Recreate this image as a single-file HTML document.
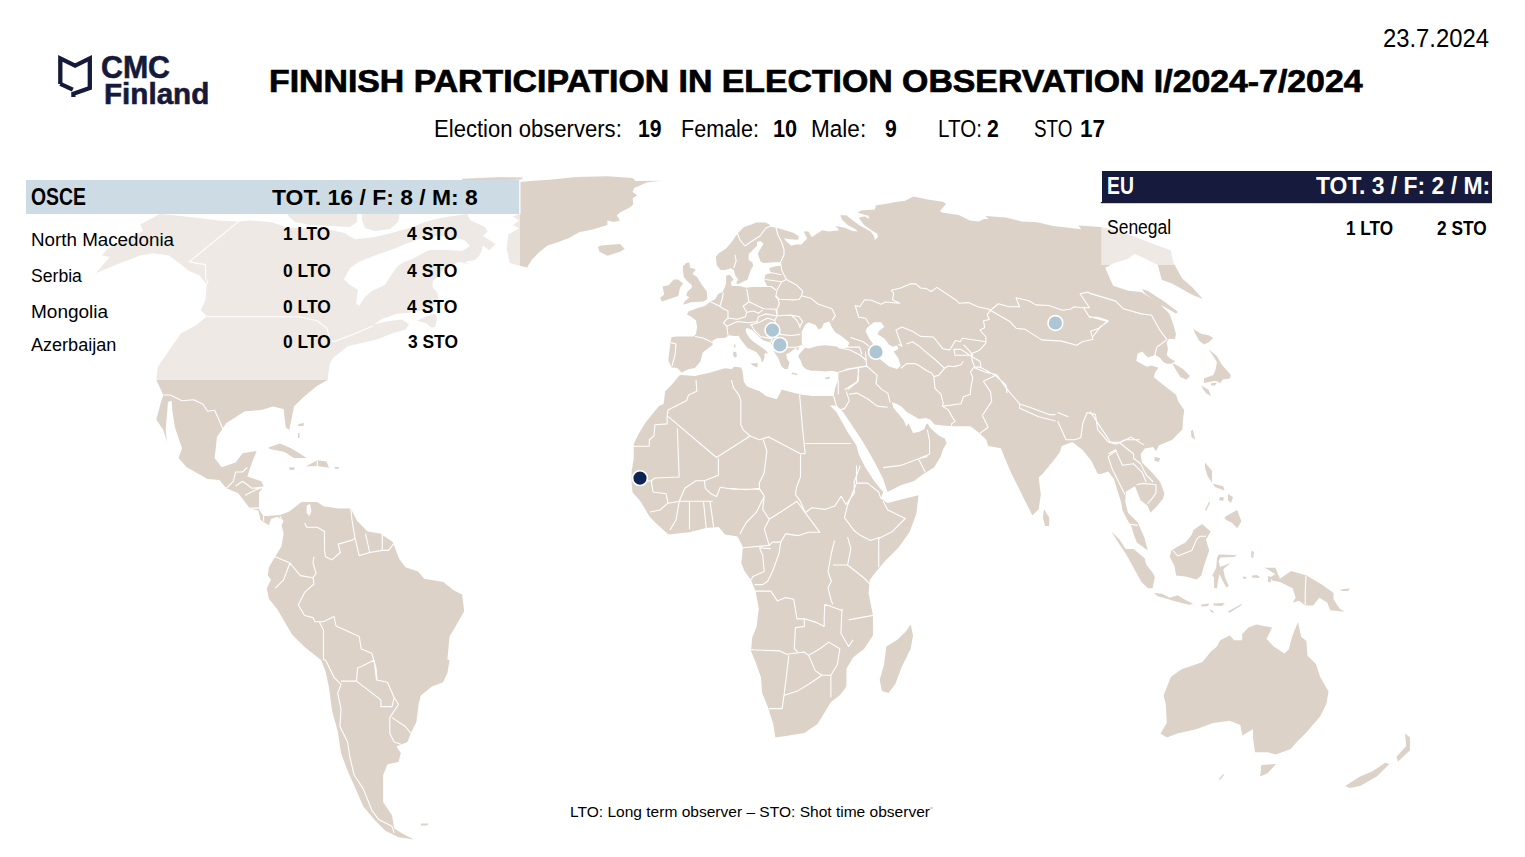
<!DOCTYPE html>
<html><head><meta charset="utf-8">
<style>
html,body{margin:0;padding:0;background:#fff;}
body{width:1525px;height:857px;position:relative;overflow:hidden;font-family:"Liberation Sans",sans-serif;}
.t{position:absolute;white-space:nowrap;transform-origin:0 0;}
</style></head><body>
<svg style="position:absolute;left:0;top:0" width="1525" height="857" viewBox="0 0 1525 857">
<path fill="#dcd2c8" d="M140.1,224.4 L160.0,214.0 L181.0,216.0 L219.0,220.6 L238.7,221.4 L250.0,220.4 L271.0,222.0 L287.8,227.7 L323.5,228.3 L344.4,233.0 L355.0,239.3 L373.8,237.2 L391.7,233.0 L410.0,227.7 L425.0,222.0 L440.0,218.0 L467.0,214.0 L470.5,220.4 L484.6,226.7 L487.8,231.4 L483.0,236.1 L495.6,244.0 L489.3,250.3 L483.0,245.5 L479.9,255.0 L475.2,259.7 L467.3,261.3 L463.0,263.5 L470.7,263.6 L458.8,262.0 L445.0,268.0 L439.0,275.0 L432.6,281.4 L432.6,287.5 L437.0,291.9 L438.7,298.0 L434.4,305.0 L421.2,310.2 L408.1,312.9 L396.7,313.7 L381.9,319.0 L374.0,324.2 L386.2,321.5 L402.0,319.5 L409.0,324.2 L405.5,329.5 L393.2,333.0 L378.0,339.0 L366.0,342.0 L347.7,346.3 L333.0,358.0 L329.7,364.3 L328.0,376.6 L327.8,380.0 L317.3,385.7 L303.3,397.3 L294.0,406.6 L289.3,430.0 L285.8,427.6 L283.5,409.0 L273.0,406.6 L261.3,410.0 L245.0,411.3 L226.3,423.0 L217.0,437.0 L214.6,458.0 L221.6,467.3 L235.6,462.6 L242.6,453.3 L256.6,451.0 L252.0,462.6 L247.3,476.6 L261.3,481.3 L263.6,486.0 L259.0,493.0 L259.0,509.3 L263.6,516.3 L280.0,515.0 L289.3,511.6 L301.0,502.3 L306.7,502.1 L317.2,502.1 L323.5,506.3 L338.2,508.4 L350.8,508.4 L357.1,521.0 L367.6,531.5 L380.2,533.6 L392.8,542.0 L399.1,558.8 L405.4,567.2 L418.0,571.4 L424.3,578.7 L443.2,581.9 L453.7,590.3 L462.1,594.5 L464.2,611.3 L455.8,626.0 L449.5,636.5 L447.4,659.6 L449.6,660.0 L447.4,673.3 L443.0,682.2 L431.9,686.6 L420.8,695.5 L418.6,704.3 L416.4,722.1 L410.8,733.2 L407.5,742.0 L396.4,746.5 L400.8,753.1 L398.6,762.0 L387.5,764.2 L383.1,775.3 L383.1,784.1 L383.1,801.9 L392.0,815.2 L394.2,828.5 L403.1,834.0 L414.1,839.6 L398.6,837.3 L385.3,830.7 L374.2,819.6 L363.2,806.3 L356.5,790.8 L347.6,770.8 L341.0,753.1 L337.7,730.9 L332.1,711.0 L328.8,686.6 L325.5,671.1 L321.0,660.0 L304.6,647.0 L292.0,634.4 L277.3,609.2 L268.9,598.7 L266.8,588.2 L271.0,579.8 L267.8,575.6 L268.9,567.2 L275.2,556.7 L281.5,546.2 L283.6,533.6 L281.5,525.2 L283.6,521.0 L277.3,516.8 L271.0,518.9 L268.9,525.2 L260.5,520.0 L258.4,510.5 L250.0,508.4 L238.0,493.0 L226.3,488.3 L219.3,480.0 L207.6,479.0 L186.7,467.3 L178.5,458.0 L182.0,448.6 L175.0,427.6 L172.7,413.6 L171.5,400.8 L168.0,402.0 L165.7,430.0 L166.8,441.6 L163.3,430.0 L156.3,419.5 L161.0,402.0 L163.3,395.0 L156.4,380.0 L157.7,366.9 L180.8,333.5 L196.2,325.3 L206.8,316.2 L200.8,310.0 L205.3,301.0 L206.8,284.4 L199.3,275.2 L188.6,270.7 L181.0,264.6 L169.0,255.5 L153.7,253.2 L140.0,255.5 L120.3,263.0 L96.0,273.0 L109.7,257.0 L102.0,255.5 L106.7,249.5 L135.5,234.3 L143.0,231.0Z M520.3,182.0 L530.0,181.0 L552.3,179.4 L575.9,177.1 L607.4,176.3 L632.6,177.9 L635.7,181.0 L660.9,180.7 L646.7,182.6 L634.1,188.1 L632.6,192.0 L637.3,195.2 L632.6,198.3 L633.4,204.6 L629.4,207.8 L620.0,212.5 L616.8,215.6 L620.0,220.4 L613.7,221.9 L607.4,220.4 L607.4,225.1 L591.6,229.8 L579.0,232.2 L569.6,237.7 L557.0,242.4 L547.6,245.5 L539.7,251.8 L531.8,259.7 L527.1,267.6 L520.8,266.0 L509.8,262.9 L506.7,248.7 L508.2,234.5 L519.2,228.2 L513.0,225.1 L519.2,220.4 L513.0,216.4 L519.2,214.0 L520.3,214.0Z M597.9,247.1 L601.1,245.5 L620.0,244.0 L624.7,248.7 L620.0,251.8 L607.4,255.8 L599.5,251.8Z M683.0,266.1 L686.2,263.0 L689.3,262.2 L690.1,267.7 L695.6,269.2 L692.5,274.0 L697.2,277.1 L701.9,285.0 L706.7,291.3 L707.4,299.2 L703.5,301.5 L690.9,302.3 L683.0,304.7 L684.6,301.5 L689.3,297.6 L686.2,295.2 L687.8,291.3 L691.7,288.1 L691.7,285.0 L687.8,281.8 L683.8,277.1 L683.0,270.8Z M673.6,279.5 L678.3,279.5 L683.0,283.4 L679.9,288.1 L678.3,296.0 L668.9,299.2 L661.8,301.5 L660.2,297.6 L664.2,294.4 L662.6,286.6 L668.9,285.0Z M681.6,372.6 L677.2,368.1 L671.6,367.6 L668.3,360.4 L669.4,351.5 L670.5,342.6 L671.6,337.1 L677.2,336.5 L693.8,336.5 L696.0,333.8 L697.1,327.1 L696.0,320.5 L691.6,317.1 L687.1,314.4 L688.3,311.6 L697.1,308.3 L704.9,306.1 L710.4,301.6 L714.9,299.4 L718.2,293.9 L722.6,291.7 L724.0,289.0 L726.1,284.0 L726.1,275.7 L729.9,274.8 L733.6,279.4 L730.8,282.2 L731.7,286.0 L739.2,286.0 L746.7,287.8 L752.3,286.9 L761.6,286.9 L767.2,286.0 L764.4,280.4 L765.4,274.8 L771.0,272.9 L769.1,268.2 L774.7,266.4 L781.2,265.5 L780.3,262.2 L774.7,262.2 L763.5,263.1 L760.7,261.7 L757.9,254.2 L758.8,251.4 L763.5,243.9 L760.7,241.1 L757.0,242.1 L757.0,245.8 L752.3,250.5 L748.6,254.2 L748.6,259.8 L752.3,262.6 L753.2,265.4 L750.4,271.0 L747.6,279.4 L742.0,282.2 L737.3,284.6 L736.4,282.2 L738.3,279.4 L735.5,275.7 L733.6,270.1 L730.8,268.2 L725.2,270.1 L720.5,270.1 L716.8,265.4 L715.9,257.0 L718.7,253.3 L726.1,248.6 L731.7,242.1 L737.3,233.7 L743.9,227.1 L752.3,224.3 L756.0,222.5 L765.4,222.5 L769.1,224.3 L771.0,226.7 L777.5,228.1 L784.0,229.9 L793.4,232.7 L799.0,236.5 L798.0,239.7 L789.6,239.3 L784.0,238.3 L785.9,241.1 L791.5,245.8 L795.4,244.4 L801.3,244.4 L807.2,238.5 L803.7,231.4 L808.4,231.4 L811.9,237.3 L816.7,233.7 L822.6,230.2 L828.5,231.4 L839.1,230.2 L835.5,226.1 L845.0,227.8 L852.3,231.0 L857.6,231.5 L856.0,229.4 L848.1,225.2 L842.3,220.0 L840.2,215.2 L846.5,215.2 L852.3,220.0 L858.6,224.7 L863.9,227.8 L870.7,231.5 L873.8,235.7 L874.9,239.9 L878.0,236.7 L877.0,233.6 L871.7,230.4 L863.9,224.7 L860.2,219.9 L859.1,217.8 L864.4,216.3 L869.1,218.9 L868.6,215.7 L864.4,214.7 L857.6,212.6 L861.2,210.5 L874.9,209.4 L876.0,205.2 L883.9,204.2 L895.7,201.9 L905.2,200.7 L913.4,196.6 L927.6,199.5 L943.0,201.8 L946.1,204.1 L939.8,211.2 L943.0,212.8 L958.7,215.1 L969.7,220.6 L979.2,221.4 L983.9,219.1 L988.6,219.1 L985.4,215.9 L1005.9,217.5 L1021.6,221.4 L1037.4,222.2 L1053.1,226.1 L1068.9,227.7 L1081.4,229.3 L1078.3,225.4 L1100.3,226.9 L1107.8,228.4 L1133.5,236.1 L1152.7,243.8 L1170.7,250.2 L1173.3,262.4 L1182.2,278.4 L1192.5,287.4 L1202.8,298.9 L1192.5,295.1 L1172.0,283.5 L1161.7,279.7 L1157.9,264.9 L1143.8,257.9 L1134.8,254.0 L1127.1,259.2 L1114.0,263.0 L1105.3,268.1 L1113.1,285.7 L1128.5,290.8 L1141.3,292.1 L1159.3,303.6 L1169.6,313.9 L1173.7,325.8 L1176.0,334.0 L1174.9,339.3 L1169.0,338.7 L1166.7,342.2 L1167.9,349.2 L1166.7,355.0 L1170.2,358.5 L1174.9,360.9 L1173.7,363.2 L1183.0,369.0 L1190.0,376.0 L1186.5,379.5 L1180.7,377.2 L1176.0,370.2 L1172.5,363.8 L1166.7,363.8 L1163.2,362.0 L1159.7,357.4 L1155.0,355.0 L1148.0,357.4 L1142.2,351.5 L1137.5,353.9 L1136.3,360.9 L1146.8,366.7 L1151.5,365.5 L1158.5,367.8 L1155.0,372.5 L1153.9,377.2 L1160.9,383.0 L1176.0,394.7 L1178.4,401.7 L1184.2,409.9 L1183.0,420.0 L1182.4,429.4 L1172.2,439.7 L1158.8,445.6 L1156.0,451.2 L1153.2,447.0 L1144.8,448.4 L1140.6,454.0 L1142.0,462.4 L1151.8,472.2 L1160.2,482.0 L1164.4,493.2 L1163.0,498.8 L1156.0,507.2 L1150.4,512.8 L1147.6,505.8 L1140.6,500.2 L1135.0,486.2 L1128.0,490.4 L1125.9,491.8 L1125.2,501.6 L1128.0,512.8 L1137.8,522.6 L1144.6,537.9 L1147.8,550.5 L1136.8,542.6 L1133.6,534.0 L1131.5,526.8 L1126.6,518.4 L1122.4,510.0 L1121.0,501.6 L1118.2,493.2 L1114.0,479.2 L1108.4,471.5 L1100.0,474.3 L1097.6,473.4 L1091.3,460.8 L1082.9,450.3 L1072.4,441.9 L1061.8,446.1 L1059.7,452.4 L1053.4,460.8 L1042.9,473.4 L1038.7,477.6 L1040.8,494.5 L1038.7,509.2 L1032.4,515.5 L1026.1,502.9 L1017.7,486.0 L1011.4,473.4 L1005.1,458.7 L1000.9,448.2 L988.3,446.1 L986.2,439.8 L979.9,433.5 L970.5,426.2 L952.6,426.2 L942.8,425.5 L934.4,424.5 L930.7,419.9 L926.0,418.0 L918.6,418.9 L913.9,416.1 L907.3,412.4 L901.7,406.8 L897.1,404.0 L892.0,402.2 L893.3,407.7 L898.0,413.3 L903.6,419.9 L906.4,426.4 L908.3,423.6 L910.1,426.4 L913.0,433.0 L918.6,432.0 L924.2,429.2 L926.0,424.5 L927.9,423.6 L929.8,427.3 L933.5,431.1 L939.1,435.8 L944.7,438.6 L946.6,443.2 L942.8,449.8 L940.7,456.5 L934.0,467.6 L923.0,474.2 L914.1,480.9 L900.8,485.3 L887.5,492.0 L883.1,478.7 L876.4,465.4 L867.6,449.8 L860.9,438.8 L852.1,425.5 L843.2,412.2 L837.6,406.6 L834.3,405.5 L829.9,405.5 L836.5,412.2 L847.6,432.1 L856.5,445.4 L858.7,454.3 L865.4,467.6 L874.2,480.9 L883.1,492.0 L880.9,498.6 L887.5,503.0 L905.2,498.6 L918.5,495.3 L916.3,514.1 L909.7,531.8 L898.6,547.4 L885.3,560.7 L874.2,574.0 L869.8,580.0 L868.6,593.3 L870.8,604.4 L873.0,615.4 L873.0,635.4 L864.2,648.7 L853.1,657.6 L846.4,668.7 L846.4,686.4 L839.8,695.3 L830.9,701.9 L817.6,724.1 L804.3,733.0 L784.3,736.3 L775.4,737.4 L773.2,724.1 L767.7,706.4 L762.1,693.1 L761.0,677.5 L755.5,662.0 L751.0,650.9 L752.2,637.6 L756.6,626.5 L758.8,608.8 L755.5,591.0 L751.0,580.0 L744.4,571.1 L741.1,562.2 L741.8,559.6 L742.9,547.0 L737.6,536.5 L725.0,534.4 L718.7,527.1 L706.1,528.1 L689.3,532.3 L668.3,534.4 L655.7,522.9 L649.4,516.6 L645.2,509.2 L640.0,500.8 L632.6,492.4 L631.6,484.0 L631.6,471.4 L633.7,458.8 L633.7,444.1 L638.9,433.6 L645.2,423.1 L653.6,412.6 L659.0,406.0 L663.6,403.9 L665.2,391.3 L671.5,385.0 L679.3,375.5 L681.0,375.0 L694.9,375.9 L710.4,372.6 L725.0,368.2 L732.0,368.9 L734.1,366.8 L741.1,367.5 L742.5,371.0 L743.9,381.8 L747.0,386.6 L759.6,391.3 L765.9,396.0 L776.9,399.2 L781.6,389.7 L800.5,394.4 L813.1,396.0 L833.6,396.0 L835.2,388.1 L838.4,378.8 L838.4,372.3 L831.9,370.7 L825.4,371.5 L817.2,370.7 L810.7,370.7 L805.8,369.0 L802.5,365.8 L800.8,360.8 L798.4,356.8 L799.2,354.3 L804.9,347.8 L804.1,346.1 L801.7,344.5 L799.2,347.0 L797.6,351.0 L795.9,347.8 L792.7,350.2 L789.4,352.7 L786.1,354.3 L787.0,358.4 L789.4,362.5 L787.8,369.0 L784.5,369.0 L781.0,365.4 L778.0,357.5 L775.3,353.7 L773.5,350.0 L772.5,346.3 L770.7,342.5 L766.9,341.6 L763.2,340.2 L759.9,337.4 L756.7,334.6 L753.9,331.8 L752.0,329.9 L748.7,328.5 L746.4,328.1 L745.5,330.4 L746.9,334.1 L750.1,338.8 L753.9,342.1 L758.5,345.3 L763.2,348.6 L766.9,351.4 L768.3,353.7 L765.5,352.8 L764.1,354.7 L764.6,357.5 L762.7,362.0 L761.8,362.0 L760.4,357.5 L756.7,352.3 L752.0,350.0 L747.3,347.7 L740.8,339.7 L738.0,334.6 L738.3,336.0 L734.1,336.0 L729.2,335.3 L725.0,338.1 L717.1,338.2 L712.6,340.4 L712.6,344.9 L708.2,348.2 L702.7,352.6 L700.4,361.5 L694.9,368.1 L688.3,369.2Z M288.0,212.0 L357.0,212.0 L357.0,222.0 L350.0,227.0 L330.0,226.0 L310.0,225.0 L295.0,222.0 L288.0,216.0Z M362.0,212.0 L400.0,212.0 L398.0,222.0 L390.0,229.0 L375.0,231.0 L365.0,228.0 L362.0,220.0Z M750.2,363.3 L757.9,363.3 L757.2,367.5 L753.0,365.4Z M733.4,351.4 L736.2,352.1 L736.9,356.3 L734.8,357.7 L733.1,354.9Z M734.1,344.4 L735.6,344.8 L735.2,347.9 L734.0,347.5Z M791.9,372.6 L797.6,373.8 L797.0,375.0 L791.5,374.0Z M825.4,377.5 L830.3,376.7 L829.0,379.0 L825.0,379.0Z M910.7,624.3 L913.0,635.4 L910.7,648.7 L901.9,666.5 L895.2,684.2 L888.6,693.1 L881.9,690.9 L879.7,679.8 L884.1,664.2 L886.3,646.5 L897.4,639.8 L906.3,631.0Z M1044.0,509.2 L1049.2,517.6 L1049.2,526.0 L1045.0,526.0 L1042.9,517.6Z M1193.5,329.3 L1201.7,334.0 L1208.7,335.2 L1213.4,338.1 L1208.7,342.2 L1204.0,344.5 L1199.4,341.0 L1194.7,332.8Z M1208.7,349.2 L1216.9,356.2 L1221.6,364.4 L1230.9,374.9 L1229.7,378.4 L1222.7,379.5 L1220.4,383.0 L1215.7,380.7 L1204.0,383.0 L1204.0,378.4 L1213.4,374.9 L1215.7,369.0 L1216.9,362.0 L1211.0,352.7Z M1201.7,385.4 L1208.7,390.0 L1211.0,395.9 L1206.4,393.5 L1202.9,388.9Z M1211.0,383.2 L1216.9,382.6 L1215.0,385.5 L1211.0,385.5Z M1142.0,289.0 L1148.0,291.0 L1165.0,302.0 L1178.0,312.0 L1176.0,313.5 L1160.0,304.5 L1145.0,293.5Z M1192.7,429.4 L1195.3,439.7 L1191.4,437.1 L1191.0,431.0Z M1154.6,456.8 L1160.2,458.2 L1158.8,461.7 L1154.6,461.0Z M1205.0,462.4 L1212.0,470.8 L1212.0,483.4 L1223.2,486.2 L1224.6,490.4 L1215.0,487.0 L1207.8,476.4 L1205.0,468.0Z M1224.6,517.0 L1237.2,510.0 L1241.4,521.2 L1237.2,528.2 L1231.6,522.6 L1226.0,520.0Z M1205.0,510.0 L1209.2,501.6 L1210.0,503.0 L1206.0,511.0Z M1220.0,497.0 L1224.0,497.5 L1223.0,501.0 L1219.0,500.0Z M1228.0,494.0 L1233.0,497.0 L1231.0,503.0 L1228.0,500.0Z M1111.6,531.6 L1119.4,539.4 L1125.7,548.9 L1133.6,548.9 L1144.6,558.3 L1146.2,564.6 L1152.5,572.5 L1154.9,577.2 L1152.5,588.2 L1147.8,588.2 L1141.5,581.9 L1133.6,567.8 L1125.7,553.6 L1119.4,544.2Z M1193.4,530.0 L1202.0,524.0 L1210.7,531.6 L1206.0,539.4 L1209.2,550.5 L1204.4,564.6 L1201.3,575.6 L1196.6,579.6 L1185.5,576.4 L1176.1,575.6 L1174.5,566.2 L1169.8,556.8 L1171.4,550.5 L1179.2,545.7 L1185.5,542.6 L1191.8,534.7Z M1154.1,593.0 L1161.9,593.7 L1169.8,597.7 L1177.7,595.3 L1184.0,599.2 L1193.4,604.0 L1188.7,604.8 L1176.1,601.6 L1157.2,596.1Z M1201.3,604.5 L1209.2,603.5 L1208.0,606.0 L1201.0,606.5Z M1213.0,603.5 L1224.9,603.0 L1222.0,606.0 L1214.0,605.5Z M1227.5,611.8 L1242.2,603.5 L1241.0,605.5 L1229.6,612.8Z M1209.5,609.0 L1213.0,611.0 L1214.0,613.0 L1211.0,612.0Z M1218.6,554.4 L1235.9,554.9 L1238.3,553.3 L1234.3,557.1 L1220.2,557.5 L1218.6,561.5 L1220.2,567.0 L1230.4,563.0 L1223.3,569.3 L1224.9,577.2 L1228.8,585.9 L1226.5,587.4 L1222.5,580.4 L1219.4,574.1 L1217.8,581.9 L1217.0,588.2 L1214.2,588.2 L1213.9,577.2 L1212.3,575.6 L1216.2,567.8 L1217.0,558.3Z M1251.6,550.5 L1254.0,552.0 L1253.2,558.3 L1251.0,557.0Z M1268.0,576.0 L1271.0,577.0 L1271.0,582.0 L1268.0,582.0Z M1264.2,567.8 L1275.3,567.8 L1280.0,578.8 L1291.0,570.9 L1306.7,575.6 L1322.5,585.1 L1333.5,593.0 L1333.5,599.2 L1339.8,608.7 L1344.5,611.8 L1330.3,610.3 L1327.2,602.4 L1319.3,597.7 L1313.0,605.5 L1305.2,605.5 L1298.9,600.8 L1292.6,602.4 L1295.7,597.7 L1292.6,588.2 L1280.0,581.9 L1272.1,580.4 L1270.5,577.2 L1275.3,574.1 L1267.4,569.3Z M1339.8,589.8 L1350.0,588.2 L1348.0,591.0 L1342.0,591.0Z M1160.5,733.4 L1166.8,722.9 L1165.7,704.0 L1163.6,695.6 L1166.8,687.2 L1171.0,676.7 L1181.5,669.3 L1194.1,665.1 L1202.5,662.0 L1210.9,651.5 L1217.0,646.5 L1220.2,640.2 L1229.6,635.4 L1234.3,640.2 L1242.2,640.2 L1242.2,633.9 L1248.5,627.6 L1256.4,624.4 L1272.1,627.6 L1266.5,638.9 L1273.7,646.5 L1284.4,653.6 L1288.6,649.4 L1292.8,634.7 L1298.0,622.1 L1301.2,636.8 L1306.4,641.0 L1307.5,655.7 L1315.9,664.1 L1320.1,676.7 L1328.5,691.4 L1326.4,704.0 L1320.1,716.6 L1305.4,733.4 L1297.0,741.8 L1290.7,749.1 L1276.0,754.4 L1267.6,752.3 L1255.0,752.3 L1252.9,737.6 L1252.9,729.2 L1242.4,735.5 L1240.3,725.0 L1229.8,720.8 L1213.0,722.9 L1196.2,729.2 L1177.3,733.4 L1166.8,737.6Z M1261.3,764.9 L1276.0,763.9 L1267.6,773.3 L1260.2,776.4Z M1345.3,785.9 L1360.0,776.4 L1372.6,771.2 L1385.2,762.8 L1389.4,763.9 L1376.8,776.4 L1360.0,785.9 L1349.5,788.0Z M1396.7,756.5 L1406.2,746.0 L1405.1,733.4 L1410.0,737.6 L1410.0,750.2 L1397.8,761.7Z M268.3,447.5 L280.0,443.5 L291.6,448.6 L306.8,458.0 L294.0,458.0 L284.6,452.0 L270.0,449.0Z M305.6,466.5 L317.3,460.3 L326.6,461.5 L329.0,467.8 L317.0,466.0Z M289.3,467.3 L295.0,467.5 L294.0,470.0 L289.0,469.5Z M334.8,467.0 L339.0,467.0 L338.0,469.0 L334.5,468.5Z M416.9,320.7 L428.2,315.5 L435.2,313.7 L437.0,319.0 L435.2,326.9 L431.7,327.7 L426.5,323.4Z M1219.0,779.0 L1223.0,774.0 L1224.0,775.0 L1220.0,780.0Z M298.5,424.0 L304.0,423.0 L303.5,426.0 L298.0,426.0Z M298.0,433.0 L299.5,433.0 L299.5,438.0 L298.0,438.0Z M462.0,178.8 L497.0,177.2 L523.5,177.4 L521.0,179.6 L497.0,180.2 L462.0,180.5Z M1243.0,576.5 L1246.7,577.0 L1246.0,578.8 L1243.0,578.5Z M1252.0,575.5 L1257.0,575.0 L1260.0,577.0 L1258.0,578.0 L1252.0,577.5Z M420.8,823.5 L428.6,823.5 L427.0,825.5 L421.0,825.5Z"/>
<path fill="#fff" d="M801.7,342.9 L801.7,331.4 L805.8,324.1 L809.0,322.5 L815.6,324.9 L818.8,329.8 L822.1,327.4 L823.7,323.3 L829.4,321.6 L831.9,327.4 L835.2,332.3 L841.7,336.3 L849.3,342.5 L847.7,347.2 L841.7,347.8 L833.5,346.1 L825.4,345.3 L817.2,346.1 L809.0,348.6 L804.9,347.8Z M306.8,505.5 L310.0,504.0 L311.5,511.0 L309.5,516.0 L306.5,513.0Z M866.8,328.0 L873.9,322.2 L880.9,322.2 L884.4,326.8 L879.7,330.3 L877.4,333.9 L884.4,338.5 L889.0,344.4 L892.5,346.7 L897.2,345.5 L898.4,349.0 L893.7,351.4 L898.4,358.4 L900.7,365.4 L897.2,368.9 L889.0,366.5 L882.0,360.7 L877.4,357.2 L873.9,350.2 L875.0,346.7 L869.2,338.5 L865.7,331.5Z M344.0,279.2 L350.0,268.0 L359.2,261.7 L376.7,254.7 L394.2,248.8 L404.7,244.2 L417.0,240.0 L428.0,236.0 L440.0,236.0 L455.0,238.0 L464.2,240.0 L470.0,246.0 L462.0,251.0 L446.7,250.0 L429.2,250.0 L411.7,259.3 L404.0,262.0 L397.7,266.0 L390.7,275.7 L384.8,285.0 L372.0,290.9 L365.0,296.7 L359.2,306.0 L356.0,303.0 L358.0,290.0 L350.0,285.0Z"/>
<path fill="#dcd2c8" d=""/>
<path fill="none" stroke="#fff" stroke-width="1.1" stroke-linejoin="round" d="M238.7,221.4 L189.4,261.6 L196.2,263.1 L205.3,264.6 L206.0,279.8 L208.0,282.0 L205.3,285.9 M206.5,316.8 L298.9,316.8 L316.9,320.7 L327.1,328.4 L329.7,341.2 L334.9,341.2 L355.4,333.5 L373.4,325.8 M163.3,395.0 L170.3,395.0 L182.0,400.8 L193.7,399.7 L203.0,404.3 L207.6,411.3 L214.6,410.2 L219.3,420.6 L222.8,428.8 M226.3,488.3 L233.3,481.3 L235.6,472.0 L242.6,472.0 L247.3,467.3 M235.6,486.0 L242.6,481.3 L252.0,488.3 L263.6,487.1 M245.0,495.3 L254.3,490.6 L263.6,487.1 M249.6,508.1 L259.0,508.1 M263.6,516.3 L263.6,521.0 M280.0,516.3 L282.3,521.0 M317.3,460.3 L317.3,467.0 M304.6,523.1 L306.7,527.3 L317.2,527.3 L324.5,531.5 L324.5,550.4 L325.6,556.7 L331.9,559.8 L340.3,552.5 L338.2,544.1 L352.9,539.9 L355.0,537.8 M355.0,537.8 L359.2,555.6 L369.7,552.5 L382.3,550.4 L388.6,550.4 L394.9,542.0 M350.8,508.4 L352.0,520.0 L355.0,537.8 M365.5,533.6 L369.7,552.5 M382.3,534.6 L382.3,550.4 M275.2,556.7 L289.9,563.0 L300.4,575.6 L313.0,577.7 L314.0,584.0 L304.6,592.4 L298.3,605.0 L304.6,615.5 L313.0,617.6 L315.1,621.8 L323.5,621.8 L334.0,616.5 L336.1,626.0 L359.2,636.5 L361.3,649.1 L371.8,653.3 L376.0,668.0 L377.0,680.0 M314.0,556.7 L313.0,563.0 L316.1,573.5 L313.0,577.7 M289.9,563.0 L283.6,579.8 L275.2,588.2 M319.3,621.8 L323.5,630.2 L323.5,659.6 L325.5,660.0 L334.3,677.7 L341.0,684.4 L337.7,693.3 L341.0,708.8 L339.9,726.5 L347.6,742.0 L349.9,757.5 L354.3,775.3 L363.2,788.6 L372.0,810.7 L378.7,819.6 L392.0,826.3 L394.2,832.9 M341.0,681.1 L356.5,681.1 L357.6,667.8 L360.9,666.7 L374.2,660.0 M356.5,681.1 L380.9,699.9 L380.9,706.6 L392.0,706.6 L394.2,697.7 L387.5,682.2 L376.5,680.0 L374.2,660.0 M394.2,697.7 L398.6,704.3 L389.8,717.6 L389.8,733.2 L394.2,742.0 L400.8,744.2 M392.0,717.6 L405.3,726.5 L410.8,733.2 M696.0,380.0 L696.9,391.2 L688.5,394.9 L686.7,400.5 L668.0,409.9 L667.1,417.3 L667.1,423.9 L654.9,424.8 L654.0,436.0 L649.3,439.7 L649.3,446.3 L633.0,446.3 M668.0,416.4 L716.5,457.5 L750.1,436.0 L759.4,439.7 L768.8,436.9 L800.5,453.7 L805.2,453.7 M677.3,428.5 L679.2,477.0 L654.9,478.0 L651.2,480.8 L632.0,481.0 M731.5,380.0 L733.3,387.5 L738.9,394.9 L740.8,400.5 L740.8,424.8 L743.6,430.4 L750.1,436.0 M799.6,394.9 L802.4,426.7 L805.2,453.7 M805.2,443.5 L850.9,443.5 M763.2,439.7 L766.9,450.9 L764.1,473.3 L759.4,482.6 L759.4,488.2 M800.5,454.7 L800.5,477.0 L796.8,486.4 L795.4,494.7 L800.3,501.2 L805.2,512.7 M718.4,458.4 L718.4,475.2 L704.4,480.8 L705.3,488.2 L710.9,493.8 L716.5,496.6 L720.3,487.3 L733.3,489.2 L759.4,489.2 L763.2,493.8 M704.4,480.8 L696.0,480.8 L684.8,488.2 L679.2,501.3 M651.2,480.8 L653.1,492.0 L666.1,493.8 L668.0,503.2 L660.0,510.0 L650.0,512.0 M730.0,488.2 L746.3,489.8 L759.4,488.2 L764.3,496.3 L756.1,512.7 L746.3,522.5 L739.8,533.9 M689.5,501.3 L689.5,529.3 M703.5,501.3 L706.3,529.3 M710.0,501.3 L713.7,527.4 M679.2,501.3 L712.8,501.3 M668.0,503.2 L679.2,501.3 L676.0,520.0 L670.0,530.0 M805.2,512.7 L811.7,507.8 L824.8,509.4 L834.6,506.1 L841.1,496.3 L846.0,504.5 L854.2,493.1 L854.2,481.6 L860.2,465.9 M844.4,517.6 L854.2,530.7 L860.7,535.6 L870.5,540.5 L880.0,537.2 M856.5,465.4 L856.5,483.1 L867.6,483.1 L878.7,492.0 L880.9,498.6 M883.1,500.8 L887.5,509.7 L905.2,518.5 L892.0,531.8 L878.7,538.5 L878.7,567.3 M856.5,483.1 L847.6,505.2 L844.4,517.6 M847.6,537.2 L850.9,548.6 L847.6,565.0 L832.9,565.0 M847.6,565.0 L864.0,578.0 L870.5,584.6 M834.6,540.5 L831.3,553.5 L828.0,571.5 L831.3,581.3 L828.0,587.8 L831.3,600.9 L832.9,604.2 M824.8,604.2 L842.7,610.7 M764.3,496.3 L762.7,509.4 L769.2,519.2 L764.3,529.0 L769.2,545.4 L743.1,547.8 M759.4,547.8 L770.8,548.6 M769.2,519.2 L782.3,511.0 L797.0,501.2 L805.2,512.7 L819.9,532.3 L808.4,532.3 L798.6,535.6 L785.6,533.9 L780.7,542.1 L772.5,542.1 L769.2,545.4 M780.7,542.1 L779.0,553.5 L772.5,571.5 L767.6,581.3 L762.7,584.6 L754.5,584.6 M759.4,547.8 L762.7,555.2 L764.3,571.5 L752.9,576.4 L751.2,579.7 M754.5,591.1 L770.8,591.1 L777.4,600.9 L785.6,597.6 L793.7,599.3 L797.0,618.9 L804.3,618.8 L815.4,622.1 L824.2,626.5 L824.2,617.7 L824.8,604.2 M751.0,649.8 L779.9,650.9 L786.5,654.3 L804.3,652.0 L808.7,655.4 M804.3,618.8 L804.3,626.5 L795.4,627.6 L794.3,648.7 L797.6,652.0 M788.8,655.4 L786.5,675.3 L784.3,693.1 L782.1,708.6 L768.8,708.6 M784.3,695.3 L797.6,690.9 L808.7,684.2 L822.0,675.3 L830.9,675.3 M808.7,655.4 L815.4,670.9 L822.0,675.3 L830.9,675.3 L837.5,664.2 L839.8,648.7 L828.7,642.1 L819.8,648.7 L808.7,655.4 M830.9,675.3 L830.9,697.5 M848.6,619.9 L873.0,615.4 M842.0,608.8 L840.9,633.2 L848.6,646.5 L853.1,639.8 M735.0,255.0 L736.2,260.8 L733.8,267.8 M736.0,230.0 L740.0,240.0 L745.0,246.0 L752.0,241.0 L760.0,236.0 L766.0,228.0 L771.0,226.0 M784.0,255.0 L780.5,262.0 M775.0,224.0 L778.0,235.0 L782.0,243.0 L784.0,250.0 L784.0,255.0 M780.5,262.0 L781.7,270.2 L786.4,279.5 L781.7,281.8 L777.0,290.0 L775.9,295.8 L779.4,299.3 M770.0,272.5 L781.7,274.8 M765.4,279.5 L781.7,281.8 M763.0,286.5 L771.2,286.5 L775.9,290.0 M786.4,279.5 L796.9,285.3 L802.7,291.2 L801.5,295.8 M779.4,299.3 L793.4,299.9 L799.2,299.3 L801.5,295.8 M801.5,295.8 L810.9,298.2 L817.9,304.0 L831.9,308.7 L835.4,315.7 L831.9,320.4 M746.7,288.8 L749.0,301.7 M775.3,295.8 L778.2,299.3 L779.4,304.0 L777.0,308.7 M749.0,301.7 L758.3,306.3 L764.2,308.7 L775.9,309.3 M749.0,301.7 L743.2,306.3 L746.7,312.2 M746.7,312.2 L753.7,311.0 L758.3,313.3 L763.0,309.9 M746.7,312.2 L745.5,316.8 L737.3,319.2 L728.0,318.0 M728.0,318.0 L728.0,311.0 L723.3,308.7 L719.8,306.3 M710.5,301.7 L719.8,306.3 L722.2,299.3 L723.3,292.3 M728.0,318.0 L723.3,322.7 L726.8,326.2 L737.3,321.5 L749.0,322.7 M726.8,326.2 L728.0,335.5 M695.0,336.5 L703.0,338.0 L712.6,342.6 M671.0,342.6 L676.0,344.0 L675.0,355.0 L672.0,366.0 M749.0,322.7 L757.2,321.5 L758.3,316.8 L765.4,313.9 L775.9,315.7 M750.2,325.0 L758.3,322.7 M775.9,309.3 L777.0,315.7 L774.7,320.4 M758.3,322.7 L767.7,318.0 L774.7,320.4 M777.0,308.7 L777.0,315.7 L791.0,315.1 L799.2,316.8 L802.7,321.5 L799.2,327.4 M791.0,315.1 L796.9,320.4 L800.4,327.4 M779.4,334.4 L791.0,335.5 L800.4,334.4 M774.7,320.4 L780.5,334.4 M757.2,322.7 L751.3,325.0 L754.8,330.9 L760.7,336.7 L767.7,337.9 M781.7,347.2 L796.9,347.2 L802.7,344.9 M767.7,337.9 L772.0,339.0 L770.7,342.5 M838.4,372.3 L849.3,369.2 L866.6,366.1 M858.8,369.2 L857.2,381.8 L844.6,389.7 M846.2,391.3 L849.3,400.7 L844.6,408.6 L838.3,410.2 M833.6,396.0 L836.7,407.0 M838.3,380.3 L838.3,394.4 M883.1,467.6 L900.8,465.4 L918.5,458.7 L927.4,456.5 M918.5,458.7 L929.6,454.3 L929.6,441.0 L927.4,429.9 M918.5,458.7 L925.2,472.0 M850.5,337.6 L863.3,341.7 L869.2,346.4 M838.0,347.5 L850.0,350.0 L860.0,355.0 L866.0,360.0 L866.6,366.1 M869.2,324.2 L865.7,318.3 L858.7,317.2 L855.2,305.5 L859.8,306.7 L864.5,299.7 L871.5,300.3 L880.8,304.3 L885.5,302.0 L899.5,303.2 L892.5,299.7 L893.7,293.3 L891.3,290.3 L900.7,288.0 L910.0,283.9 L915.9,283.9 L920.5,288.0 L926.4,288.6 L931.0,291.5 L936.9,287.4 L955.5,299.7 L959.0,303.2 L968.4,302.6 L977.7,306.7 L988.2,309.0 L990.5,310.2 M990.5,310.2 L998.5,303.7 L1009.0,306.7 L1019.5,306.7 L1016.0,297.9 L1028.8,300.8 L1035.8,304.9 L1048.7,305.5 L1062.6,310.2 L1070.8,309.0 L1074.3,306.7 L1082.5,307.8 L1089.5,307.8 L1080.1,293.8 L1088.3,292.1 L1090.0,293.4 L1115.7,301.1 L1123.4,308.8 L1141.3,313.9 L1151.6,315.2 L1159.3,329.3 L1167.0,339.6 M990.3,310.2 L1010.2,321.8 L1016.0,328.2 L1025.3,329.4 L1041.7,339.9 L1061.5,341.1 L1076.6,345.2 L1082.5,341.7 L1093.0,339.3 L1090.6,331.2 L1100.0,327.7 L1108.1,320.7 L1097.6,317.2 L1089.5,317.2 L1083.6,307.8 M990.5,310.2 L987.0,314.8 L989.4,319.5 L983.5,320.7 L984.7,327.7 L980.0,330.0 L985.9,337.0 L985.9,342.9 L980.0,349.9 L971.9,353.4 L971.9,360.0 L975.0,368.0 L985.0,372.0 L996.7,374.7 M985.9,341.7 L962.5,338.2 L960.2,341.7 L955.5,340.5 L949.7,349.9 L942.7,348.7 L933.4,337.0 L920.5,336.4 L912.4,331.2 L901.9,327.1 L896.0,330.0 L901.9,346.4 L898.4,344.0 M996.7,374.7 L1007.2,389.4 L1019.8,404.1 L1032.4,408.3 L1049.2,414.6 L1055.5,414.6 M1019.8,404.1 L1019.8,408.3 L1038.7,416.7 L1055.5,421.0 M1057.6,412.5 L1068.2,416.7 M1057.6,421.0 L1066.1,439.8 L1074.5,439.8 L1080.8,437.7 L1082.9,423.0 L1087.1,412.5 L1095.5,414.6 M1095.5,414.6 L1097.6,429.3 L1108.1,441.9 L1116.5,444.1 L1124.9,439.8 L1139.6,439.8 M1116.5,450.3 L1108.1,456.6 L1112.3,469.2 L1118.6,481.8 L1124.9,494.5 M1167.0,339.6 L1156.8,347.3 L1154.2,357.6 M1090.0,411.5 L1100.3,426.9 L1110.5,442.3 L1120.8,442.3 L1131.1,437.1 L1143.9,444.9 M1090.0,316.5 L1108.0,321.6 L1100.3,326.8 L1092.6,337.0 M1119.6,442.8 L1133.6,454.0 L1133.6,458.2 L1140.6,463.8 L1146.2,475.0 L1153.2,482.0 M1108.4,454.0 L1115.4,449.8 L1122.4,465.2 L1133.6,463.8 L1142.0,472.2 L1146.2,482.0 M1136.4,484.8 L1143.4,483.4 L1156.0,484.8 L1156.0,493.2 L1151.8,498.8 L1147.6,503.7 M1128.0,524.0 L1137.8,525.4 M1173.0,550.5 L1177.7,556.0 L1191.8,550.5 L1196.6,539.4 L1199.7,536.3 L1206.0,536.3 M1306.0,575.6 L1305.2,593.0 L1305.2,605.5 M1172.0,363.0 L1178.0,364.0 M906.5,344.0 L912.4,341.7 L919.4,346.4 L927.5,353.4 L935.7,360.0 L944.5,368.3 M900.8,368.3 L906.7,363.6 L915.0,363.6 L919.7,366.0 L926.8,370.7 L931.5,373.0 L933.9,376.6 L938.6,375.4 L944.5,368.3 L948.0,366.0 L953.9,366.6 L961.0,364.8 L963.4,361.2 M933.9,376.6 L935.0,388.4 L941.0,394.3 L943.3,403.7 L942.1,406.1 L948.0,409.6 L952.8,417.9 L955.1,421.4 L951.6,423.8 L951.6,426.2 M943.3,406.1 L961.0,403.7 L963.4,396.7 L970.5,394.3 L970.5,389.6 L971.6,383.7 L972.8,377.8 L970.5,371.9 L974.0,367.1 L979.9,367.1 L995.3,375.4 M963.4,344.7 L969.3,350.6 L972.8,355.3 L955.1,355.3 L953.9,349.4 L961.0,349.4 L971.6,356.5 L979.9,361.2 L981.1,367.1 M995.3,375.4 L983.4,381.3 L990.5,391.9 L991.7,401.4 L982.3,415.5 L988.2,427.3 L979.9,433.2 M995.3,375.4 L1005.9,384.9 L1007.0,393.1 M866.6,366.0 L877.2,375.4 L876.0,383.7 L881.9,389.6 L887.8,393.1 L890.2,402.6 M845.3,369.5 L859.5,367.1 L866.6,366.0 M858.3,368.3 L858.3,381.3 L847.7,389.6 M848.9,394.3 L857.1,393.1 L867.8,399.0 L877.2,406.1 L887.8,407.3 M865.4,351.8 L866.6,363.6 M838.3,347.1 L859.5,347.1 L861.9,354.2"/>
<rect x="26" y="214" width="494" height="166" fill="#fff" fill-opacity="0.5"/>
<rect x="1101.2" y="203" width="391" height="62" fill="#fff" fill-opacity="0.5"/>
<rect x="26" y="180" width="494" height="34" fill="#cddce4"/>
<rect x="519.2" y="180" width="1.1" height="34" fill="#fff"/>
<rect x="1102" y="171" width="390" height="31.5" fill="#161a3c"/>
<rect x="1100.8" y="202" width="391.2" height="1.2" fill="#161a3c"/>
<circle cx="772.4" cy="330.2" r="7.4" fill="#aec6d3" stroke="#fff" stroke-width="1.6"/>
<circle cx="779.9" cy="344.9" r="7.4" fill="#aec6d3" stroke="#fff" stroke-width="1.6"/>
<circle cx="876.0" cy="351.9" r="7.4" fill="#aec6d3" stroke="#fff" stroke-width="1.6"/>
<circle cx="1055.4" cy="323.0" r="7.4" fill="#aec6d3" stroke="#fff" stroke-width="1.6"/>
<circle cx="640.0" cy="478.1" r="7.4" fill="#0e2454" stroke="#fff" stroke-width="1.6"/>
<ellipse cx="931.5" cy="808" rx="1.8" ry="1" fill="#dcd2c8"/>
</svg>
<svg style="position:absolute;left:0;top:0" width="240" height="120" viewBox="0 0 240 120">
<g fill="none" stroke="#161a3a" stroke-width="4.3" stroke-linejoin="miter">
<path d="M60.3,83.9 L60.3,58.4 L75.1,65.6 L89.8,58.4 L89.8,87.9 L73.4,93.8 L73.4,97"/>
<path d="M60.3,83.9 L72.8,89.6"/>
</g></svg>
<div class="t" id="t0" style="left:268.50px;top:66.47px;font-size:31.10px;line-height:31.10px;font-weight:bold;color:#000;-webkit-text-stroke:0.7px #000;transform:scaleX(1.0875)">FINNISH PARTICIPATION IN ELECTION OBSERVATION I/2024-7/2024</div>
<div class="t" id="t1" style="left:1383.20px;top:24.58px;font-size:26.60px;line-height:26.60px;color:#000;transform:scaleX(0.8959)">23.7.2024</div>
<div class="t" id="t2" style="left:433.80px;top:118.07px;font-size:23.55px;line-height:23.55px;color:#000;transform:scaleX(0.9378)">Election observers:</div>
<div class="t" id="t3" style="left:638.00px;top:118.07px;font-size:23.55px;line-height:23.55px;font-weight:bold;color:#000;transform:scaleX(0.9007)">19</div>
<div class="t" id="t4" style="left:681.20px;top:118.07px;font-size:23.55px;line-height:23.55px;color:#000;transform:scaleX(0.9158)">Female:</div>
<div class="t" id="t5" style="left:772.70px;top:118.07px;font-size:23.55px;line-height:23.55px;font-weight:bold;color:#000;transform:scaleX(0.9236)">10</div>
<div class="t" id="t6" style="left:811.00px;top:118.07px;font-size:23.55px;line-height:23.55px;color:#000;transform:scaleX(0.9584)">Male:</div>
<div class="t" id="t7" style="left:885.40px;top:118.07px;font-size:23.55px;line-height:23.55px;font-weight:bold;color:#000;transform:scaleX(0.9001)">9</div>
<div class="t" id="t8" style="left:938.00px;top:118.07px;font-size:23.55px;line-height:23.55px;color:#000;transform:scaleX(0.8750)">LTO:</div>
<div class="t" id="t9" style="left:987.20px;top:118.07px;font-size:23.55px;line-height:23.55px;font-weight:bold;color:#000;transform:scaleX(0.9001)">2</div>
<div class="t" id="t10" style="left:1034.40px;top:118.07px;font-size:23.55px;line-height:23.55px;color:#000;transform:scaleX(0.8003)">STO</div>
<div class="t" id="t11" style="left:1080.20px;top:118.07px;font-size:23.55px;line-height:23.55px;font-weight:bold;color:#000;transform:scaleX(0.9541)">17</div>
<div class="t" id="t12" style="left:30.70px;top:185.12px;font-size:23.84px;line-height:23.84px;font-weight:bold;color:#000;transform:scaleX(0.8130)">OSCE</div>
<div class="t" id="t13" style="left:271.50px;top:185.76px;font-size:22.97px;line-height:22.97px;font-weight:bold;color:#000;transform:scaleX(0.9974)">TOT. 16 / F: 8 / M: 8</div>
<div class="t" id="t14" style="left:31.10px;top:230.51px;font-size:18.90px;line-height:18.90px;color:#000;transform:scaleX(0.9940)">North Macedonia</div>
<div class="t" id="t15" style="left:31.10px;top:266.51px;font-size:18.90px;line-height:18.90px;color:#000;transform:scaleX(0.9321)">Serbia</div>
<div class="t" id="t16" style="left:31.10px;top:302.71px;font-size:18.90px;line-height:18.90px;color:#000;transform:scaleX(1.0056)">Mongolia</div>
<div class="t" id="t17" style="left:31.10px;top:336.21px;font-size:18.90px;line-height:18.90px;color:#000;transform:scaleX(0.9556)">Azerbaijan</div>
<div class="t" id="t18" style="left:283.10px;top:225.01px;font-size:18.90px;line-height:18.90px;font-weight:bold;color:#000;transform:scaleX(0.9113)">1 LTO</div>
<div class="t" id="t19" style="left:282.50px;top:261.81px;font-size:18.90px;line-height:18.90px;font-weight:bold;color:#000;transform:scaleX(0.9228)">0 LTO</div>
<div class="t" id="t20" style="left:282.50px;top:297.51px;font-size:18.90px;line-height:18.90px;font-weight:bold;color:#000;transform:scaleX(0.9228)">0 LTO</div>
<div class="t" id="t21" style="left:282.50px;top:333.21px;font-size:18.90px;line-height:18.90px;font-weight:bold;color:#000;transform:scaleX(0.9228)">0 LTO</div>
<div class="t" id="t22" style="left:407.00px;top:225.01px;font-size:18.90px;line-height:18.90px;font-weight:bold;color:#000;transform:scaleX(0.9290)">4 STO</div>
<div class="t" id="t23" style="left:407.00px;top:261.81px;font-size:18.90px;line-height:18.90px;font-weight:bold;color:#000;transform:scaleX(0.9290)">4 STO</div>
<div class="t" id="t24" style="left:407.00px;top:297.51px;font-size:18.90px;line-height:18.90px;font-weight:bold;color:#000;transform:scaleX(0.9290)">4 STO</div>
<div class="t" id="t25" style="left:407.50px;top:333.21px;font-size:18.90px;line-height:18.90px;font-weight:bold;color:#000;transform:scaleX(0.9198)">3 STO</div>
<div class="t" id="t26" style="left:1107.10px;top:175.31px;font-size:23.26px;line-height:23.26px;font-weight:bold;color:#fff;transform:scaleX(0.8325)">EU</div>
<div class="t" id="t27" style="left:1315.80px;top:175.31px;font-size:23.26px;line-height:23.26px;font-weight:bold;color:#fff;transform:scaleX(0.9867)">TOT. 3 / F: 2 / M:</div>
<div class="t" id="t28" style="left:1106.80px;top:218.14px;font-size:19.91px;line-height:19.91px;color:#000;transform:scaleX(0.8787)">Senegal</div>
<div class="t" id="t29" style="left:1346.10px;top:218.51px;font-size:19.48px;line-height:19.48px;font-weight:bold;color:#000;transform:scaleX(0.8806)">1 LTO</div>
<div class="t" id="t30" style="left:1436.60px;top:218.51px;font-size:19.48px;line-height:19.48px;font-weight:bold;color:#000;transform:scaleX(0.8872)">2 STO</div>
<div class="t" id="t31" style="left:101.00px;top:52.16px;font-size:30.52px;line-height:30.52px;font-weight:bold;color:#161a3a;-webkit-text-stroke:0.6px #161a3a;transform:scaleX(0.9928)">CMC</div>
<div class="t" id="t32" style="left:103.90px;top:78.75px;font-size:29.36px;line-height:29.36px;font-weight:bold;color:#161a3a;-webkit-text-stroke:0.6px #161a3a;transform:scaleX(1.0087)">Finland</div>
<div class="t" id="t33" style="left:569.50px;top:803.73px;font-size:15.55px;line-height:15.55px;color:#000;transform:scaleX(0.9991)">LTO: Long term observer – STO: Shot time observer</div>
</body></html>
